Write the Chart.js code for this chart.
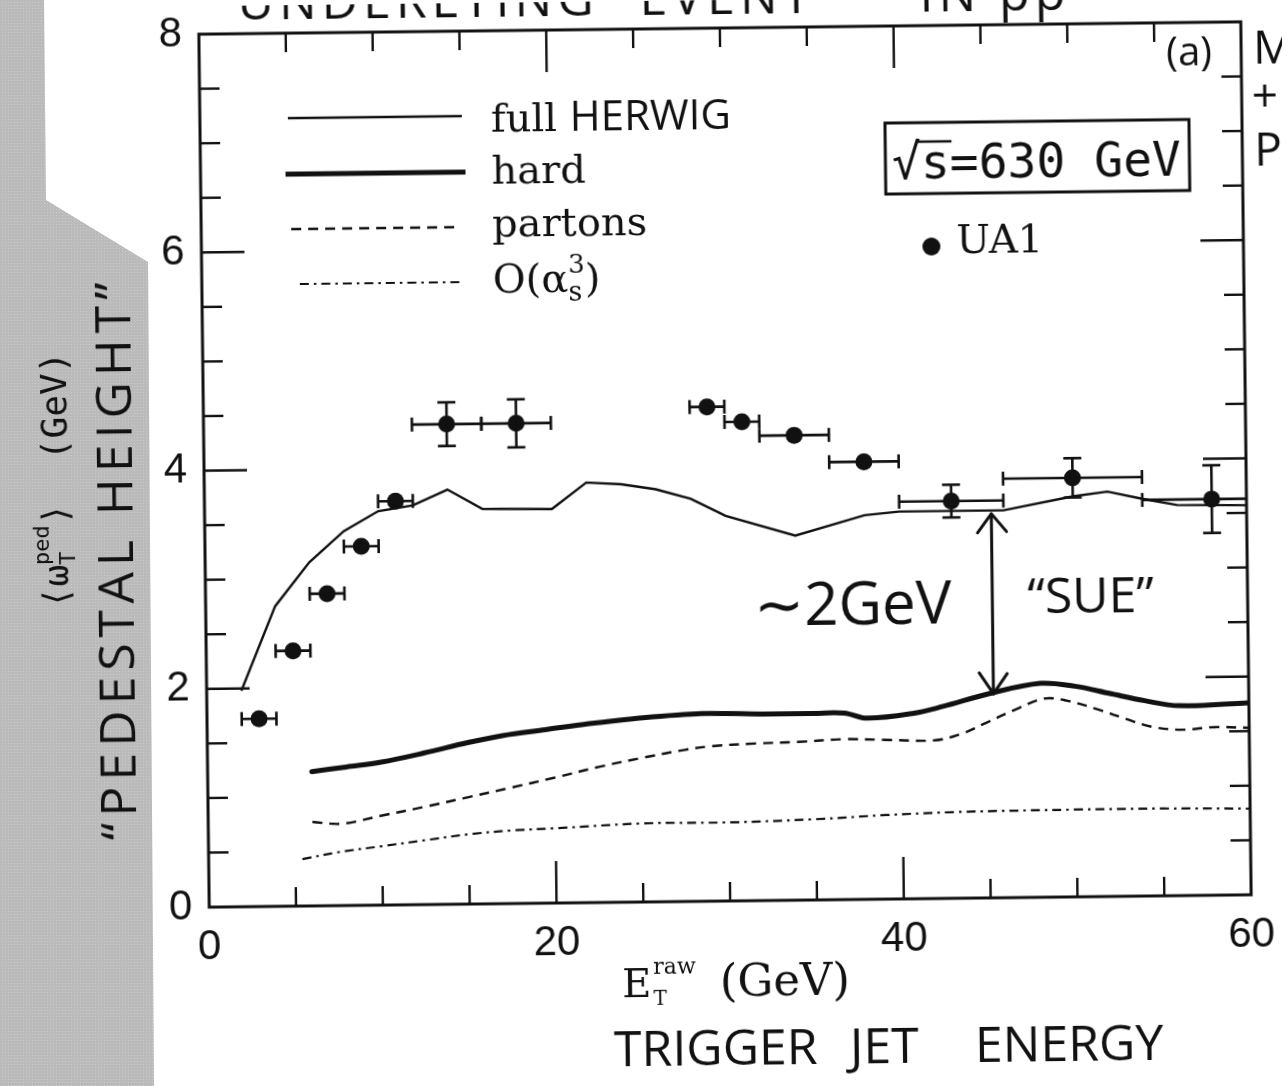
<!DOCTYPE html>
<html>
<head>
<meta charset="utf-8">
<title>Pedestal height vs trigger jet energy</title>
<script src="https://cdn.jsdelivr.net/npm/chart.js@4.4.1/dist/chart.umd.min.js"></script>
<style>
  html, body { margin: 0; padding: 0; background: #fff; overflow: hidden; }
  #page { position: relative; width: 1287px; height: 1086px; overflow: hidden; background: #fff; }
  /* grey page edge of the scanned sheet */
  #edge {
    position: absolute; left: 0; top: 0; width: 170px; height: 1086px;
    background-color: #d0d0d0;
    background-image: radial-gradient(rgba(110,110,110,0.35) 0.6px, transparent 0.9px),
                      radial-gradient(rgba(255,255,255,0.45) 0.6px, transparent 0.9px);
    background-size: 2px 2px, 3px 3px;
    background-position: 0 0, 1px 1px;
    clip-path: polygon(0 0, 44px 0, 46px 200px, 148px 262px, 154px 1086px, 0 1086px);
  }
  /* the sheet sits slightly askew */
  #chart { position: absolute; left: 0; top: 0; transform: rotate(-0.68deg); transform-origin: 725px 464.5px; }
</style>
</head>
<body>
<div id="page">
  <div id="edge"></div>
  <canvas id="chart" width="1287" height="1086"></canvas>
</div>
<script>
// Monte Carlo curves: pedestal height (GeV) against raw trigger-jet E_T (GeV)
const herwigX = [2, 4, 6, 8, 10, 12, 14, 16, 20, 22, 24, 26, 28, 30, 34, 38, 40, 46, 50, 52, 54, 56, 60];
const herwigY = [1.98, 2.75, 3.15, 3.43, 3.61, 3.66, 3.80, 3.62, 3.61, 3.85, 3.83, 3.78, 3.69, 3.53, 3.34, 3.52, 3.55, 3.55, 3.67, 3.71, 3.64, 3.58, 3.57];

const hardX = [6, 8, 10, 12.5, 15, 17, 19.5, 22, 24.5, 28.5, 32, 35, 36.7, 38, 40.7, 42.4, 45, 48, 50, 52, 54, 56, 60];
const hardY = [1.23, 1.27, 1.31, 1.39, 1.48, 1.54, 1.59, 1.64, 1.68, 1.72, 1.71, 1.71, 1.71, 1.66, 1.70, 1.76, 1.87, 1.96, 1.93, 1.86, 1.79, 1.74, 1.76];

const partonX = [6, 7.7, 10, 12.6, 15, 17.4, 20, 22.6, 25, 27.5, 29, 31.5, 34, 36.7, 39, 41.9, 43.5, 44.8, 46.5, 48.2, 49.5, 51.4, 53, 54.4, 56.1, 58, 60];
const partonY = [0.77, 0.75, 0.82, 0.90, 0.98, 1.06, 1.15, 1.245, 1.32, 1.39, 1.42, 1.44, 1.45, 1.47, 1.46, 1.45, 1.51, 1.60, 1.72, 1.82, 1.80, 1.71, 1.62, 1.55, 1.52, 1.54, 1.53];

const alphaX = [5.4, 7.5, 10, 12.5, 15, 17.5, 20, 25, 30, 35, 39, 43, 50, 55, 60];
const alphaY = [0.43, 0.49, 0.54, 0.59, 0.64, 0.67, 0.685, 0.72, 0.72, 0.74, 0.77, 0.79, 0.80, 0.80, 0.79];

// UA1 measurements with bin half-widths and errors
const ua1X    = [3, 5, 7, 9, 11, 14, 18, 29, 31, 34, 38, 43, 50, 58];
const ua1Y    = [1.72, 2.34, 2.86, 3.29, 3.70, 4.40, 4.40, 4.53, 4.39, 4.26, 4.01, 3.64, 3.84, 3.63];
const ua1XErr = [1, 1, 1, 1, 1, 2, 2, 1, 1, 2, 2, 3, 4, 4];
const ua1YErr = [0, 0, 0, 0, 0, 0.20, 0.22, 0, 0, 0, 0, 0.15, 0.18, 0.31];

// labelled ticks
const xTickValues = [0, 20, 40, 60];
const yTickValues = [0, 2, 4, 6, 8];

// "SUE" gap between the full and hard curves
const sueX = 45.3;
const sueFrom = 1.87;
const sueTo = 3.52;

const INK = '#111';
const SERIF = '"DejaVu Serif", "Liberation Serif", serif';
const HAND = '"Open Sans", "DejaVu Sans", sans-serif';
const MONO = '"DejaVu Sans Mono", "DejaVu Sans", monospace';
const SANS = '"Liberation Sans", Arial, sans-serif';

const pairs = (xs, ys) => xs.map((x, i) => ({ x, y: ys[i] }));

const styles = {
  full:    { width: 2.4, dash: [] },
  hard:    { width: 5,   dash: [] },
  partons: { width: 2.4, dash: [10, 7] },
  alpha:   { width: 2.2, dash: [9, 5, 2.5, 5] }
};

// draw a run of text pieces (with optional stacked sub/superscripts)
function drawRuns(ctx, runs, x, y, align) {
  let total = 0;
  const widths = runs.map(r => {
    let w;
    if (r.stack) {
      w = Math.max(...r.stack.map(s => { ctx.font = s.font; return ctx.measureText(s.text).width; }));
    } else {
      ctx.font = r.font; w = ctx.measureText(r.text).width;
    }
    w += (r.gap || 0);
    total += w;
    return w;
  });
  let cx = align === 'center' ? x - total / 2 : (align === 'right' ? x - total : x);
  ctx.textAlign = 'left';
  ctx.textBaseline = 'alphabetic';
  runs.forEach((r, i) => {
    if (r.stack) {
      r.stack.forEach(s => { ctx.font = s.font; ctx.fillText(s.text, cx + (s.dx || 0), y + (s.dy || 0)); });
    } else {
      ctx.font = r.font; ctx.fillText(r.text, cx, y + (r.dy || 0));
    }
    cx += widths[i];
  });
}

function line(ctx, x1, y1, x2, y2) {
  ctx.beginPath(); ctx.moveTo(x1, y1); ctx.lineTo(x2, y2); ctx.stroke();
}

const errorBars = {
  id: 'errorBars',
  afterDatasetsDraw(chart) {
    const { ctx, chartArea: ca, scales: { x, y } } = chart;
    ctx.save();
    ctx.beginPath(); ctx.rect(ca.left, ca.top, ca.width, ca.height); ctx.clip();
    ctx.strokeStyle = INK; ctx.lineWidth = 2.6; ctx.setLineDash([]);
    ua1X.forEach((xv, i) => {
      const px = x.getPixelForValue(xv), py = y.getPixelForValue(ua1Y[i]);
      const xl = x.getPixelForValue(xv - ua1XErr[i]), xr = x.getPixelForValue(xv + ua1XErr[i]);
      line(ctx, xl, py, xr, py);
      line(ctx, xl, py - 7, xl, py + 7);
      line(ctx, xr, py - 7, xr, py + 7);
      if (ua1YErr[i] > 0) {
        const yt = y.getPixelForValue(ua1Y[i] + ua1YErr[i]), yb = y.getPixelForValue(ua1Y[i] - ua1YErr[i]);
        line(ctx, px, yt, px, yb);
        line(ctx, px - 9, yt, px + 9, yt);
        line(ctx, px - 9, yb, px + 9, yb);
      }
    });
    ctx.restore();
  }
};

const frameAndNotes = {
  id: 'frameAndNotes',
  afterDraw(chart) {
    const { ctx, chartArea: ca, scales: { x, y } } = chart;
    const L = ca.left, T = ca.top, R = ca.right, B = ca.bottom;
    ctx.save();
    ctx.strokeStyle = INK; ctx.fillStyle = INK;

    // frame
    ctx.lineWidth = 3; ctx.setLineDash([]);
    ctx.strokeRect(L, T, R - L, B - T);

    // inward ticks on all four sides
    ctx.lineWidth = 2.4;
    for (let v = 5; v < 60; v += 5) {
      const px = x.getPixelForValue(v);
      const len = v % 20 === 0 ? 42 : 19;
      line(ctx, px, B, px, B - len);
      line(ctx, px, T, px, T + len);
    }
    for (let v = 0.5; v < 8; v += 0.5) {
      const py = y.getPixelForValue(v);
      const len = v % 2 === 0 ? 43 : 20;
      line(ctx, L, py, L + len, py);
      line(ctx, R, py, R - len, py);
    }

    // legend
    const rows = [
      { key: 'full',    y: 85,  x1: 88, x2: 262, base: 101,
        runs: [{ text: 'full ', font: `40px ${SERIF}` }, { text: 'HERWIG', font: `42px ${HAND}` }] },
      { key: 'hard',    y: 141, x1: 85, x2: 265, base: 153,
        runs: [{ text: 'hard', font: `40px ${SERIF}` }] },
      { key: 'partons', y: 196, x1: 90, x2: 257, base: 206,
        runs: [{ text: 'partons', font: `40px ${SERIF}` }] },
      { key: 'alpha',   y: 251, x1: 98, x2: 262, base: 262,
        runs: [{ text: 'O(', font: `40px ${SERIF}` }, { text: 'α', font: `40px ${SERIF}` },
               { stack: [{ text: 's', font: `27px ${SERIF}`, dy: 9 }, { text: '3', font: `26px ${SERIF}`, dy: -19 }] },
               { text: ')', font: `40px ${SERIF}` }] }
    ];
    rows.forEach(r => {
      const st = styles[r.key];
      ctx.lineWidth = st.width; ctx.setLineDash(st.dash); ctx.lineCap = 'butt';
      line(ctx, L + r.x1, T + r.y, L + r.x2, T + r.y);
      ctx.setLineDash([]);
      drawRuns(ctx, r.runs, L + 291, T + r.base, 'left');
    });

    // energy box
    ctx.lineWidth = 3;
    ctx.strokeRect(L + 685, T + 97, 304, 71);
    ctx.font = `48px ${MONO}`;
    const boxText = '√s=630 GeV';
    const bw = ctx.measureText(boxText).width;
    const bx = L + 836 - bw / 2, by = T + 153;
    ctx.textAlign = 'left'; ctx.textBaseline = 'alphabetic';
    ctx.fillText(boxText, bx, by);
    const cw = ctx.measureText('√').width;
    ctx.lineWidth = 2.5;
    line(ctx, bx + cw * 0.85, by - 37, bx + cw * 2 + 2, by - 37);

    // UA1 key
    ctx.beginPath(); ctx.arc(L + 730, T + 221, 9, 0, Math.PI * 2); ctx.fill();
    ctx.font = `40px ${SERIF}`;
    ctx.fillText('UA1', L + 755, T + 228);

    // panel tag
    ctx.font = `40px ${HAND}`; ctx.textAlign = 'center'; ctx.textBaseline = 'middle';
    ctx.fillText('(a)', L + 990, T + 32);

    // SUE arrow between the curves
    const ax = x.getPixelForValue(sueX), ay1 = y.getPixelForValue(sueFrom), ay2 = y.getPixelForValue(sueTo);
    ctx.lineWidth = 3; ctx.lineCap = 'round'; ctx.lineJoin = 'round';
    line(ctx, ax, ay1, ax, ay2);
    ctx.beginPath();
    ctx.moveTo(ax - 14, ay2 + 19); ctx.lineTo(ax, ay2); ctx.lineTo(ax + 15, ay2 + 18);
    ctx.moveTo(ax - 14, ay1 - 21); ctx.lineTo(ax, ay1); ctx.lineTo(ax + 14, ay1 - 20);
    ctx.stroke();

    ctx.font = `60px ${HAND}`;
    ctx.fillText('∼2GeV', L + 647, T + 581);
    ctx.font = `50px ${HAND}`;
    ctx.fillText('“SUE”', L + 885, T + 575);

    // axis titles
    ctx.fillStyle = INK;
    drawRuns(ctx, [
      { text: 'E', font: `40px ${SERIF}` },
      { stack: [{ text: 'T', font: `20px ${SERIF}`, dy: 8, dx: 2 }, { text: 'raw', font: `22px ${SERIF}`, dy: -23, dx: 2 }], gap: 26 },
      { text: '(GeV)', font: `45px ${SERIF}` }
    ], 730, 996, 'center');

    ctx.font = `50px ${HAND}`; ctx.textAlign = 'left'; ctx.textBaseline = 'alphabetic';
    ctx.fillText('TRIGGER', 607, 1065);
    ctx.fillText('JET', 843, 1065);
    ctx.fillText('ENERGY', 968, 1065);

    ctx.save();
    ctx.translate(67, 472); ctx.rotate(-Math.PI / 2);
    drawRuns(ctx, [
      { text: '⟨ω', font: `36px ${MONO}` },
      { stack: [{ text: 'T', font: `22px ${MONO}`, dy: 7 }, { text: 'ped', font: `22px ${MONO}`, dy: -19 }] },
      { text: '⟩  (GeV)', font: `36px ${MONO}` }
    ], 0, 0, 'center');
    ctx.restore();

    ctx.save();
    ctx.translate(132, 551); ctx.rotate(-Math.PI / 2);
    ctx.font = `50px ${HAND}`;
    ctx.letterSpacing = '6px';
    ctx.textAlign = 'center'; ctx.textBaseline = 'alphabetic';
    ctx.fillText('“PEDESTAL HEIGHT”', 0, 0);
    ctx.letterSpacing = '0px';
    ctx.restore();

    // handwritten notes round the margins
    ctx.font = `50px ${HAND}`; ctx.textAlign = 'left'; ctx.textBaseline = 'alphabetic';
    ctx.letterSpacing = '5px';
    ctx.fillText('UNDERLYING', 243, 14);
    ctx.fillText('EVENT', 645, 14);
    ctx.fillText('IN p̄p', 925, 14);
    ctx.letterSpacing = '0px';
    ctx.font = `46px ${HAND}`;
    ctx.fillText('M', 1258, 70);
    ctx.fillText('+', 1256, 118);
    ctx.fillText('Pu', 1258, 172);

    ctx.restore();
  }
};

new Chart(document.getElementById('chart'), {
  type: 'line',
  data: {
    datasets: [
      { label: 'full HERWIG', data: pairs(herwigX, herwigY), borderColor: INK, borderWidth: styles.full.width,
        borderDash: styles.full.dash, pointRadius: 0, tension: 0, fill: false },
      { label: 'hard', data: pairs(hardX, hardY), borderColor: INK, borderWidth: styles.hard.width,
        pointRadius: 0, tension: 0.35, fill: false, borderCapStyle: 'round' },
      { label: 'partons', data: pairs(partonX, partonY), borderColor: INK, borderWidth: styles.partons.width,
        borderDash: styles.partons.dash, pointRadius: 0, tension: 0.35, fill: false },
      { label: 'O(αs³)', data: pairs(alphaX, alphaY), borderColor: INK, borderWidth: styles.alpha.width,
        borderDash: styles.alpha.dash, pointRadius: 0, tension: 0.35, fill: false },
      { label: 'UA1', data: pairs(ua1X, ua1Y), showLine: false, pointRadius: 8.5, pointHoverRadius: 8.5,
        pointBackgroundColor: INK, pointBorderColor: INK, pointBorderWidth: 0 }
    ]
  },
  options: {
    responsive: false,
    animation: false,
    events: [],
    devicePixelRatio: 1,
    layout: { padding: { top: 28, right: 41, left: 0, bottom: 0 } },
    plugins: { legend: { display: false }, tooltip: { enabled: false } },
    scales: {
      x: {
        type: 'linear', min: 0, max: 60,
        afterBuildTicks: s => { s.ticks = xTickValues.map(v => ({ value: v })); },
        afterFit: s => { s.height = 185; s.paddingLeft = 0; s.paddingRight = 0; },
        grid: { display: false, drawTicks: false },
        border: { display: false },
        ticks: { color: INK, font: { family: SANS, size: 42 }, padding: 15, maxRotation: 0 }
      },
      y: {
        type: 'linear', min: 0, max: 8,
        afterBuildTicks: s => { s.ticks = yTickValues.map(v => ({ value: v })); },
        afterFit: s => { s.width = 204; s.paddingTop = 0; s.paddingBottom = 0; },
        grid: { display: false, drawTicks: false },
        border: { display: false },
        ticks: { color: INK, font: { family: SANS, size: 42 }, padding: 17 }
      }
    }
  },
  plugins: [errorBars, frameAndNotes]
});
</script>
</body>
</html>
